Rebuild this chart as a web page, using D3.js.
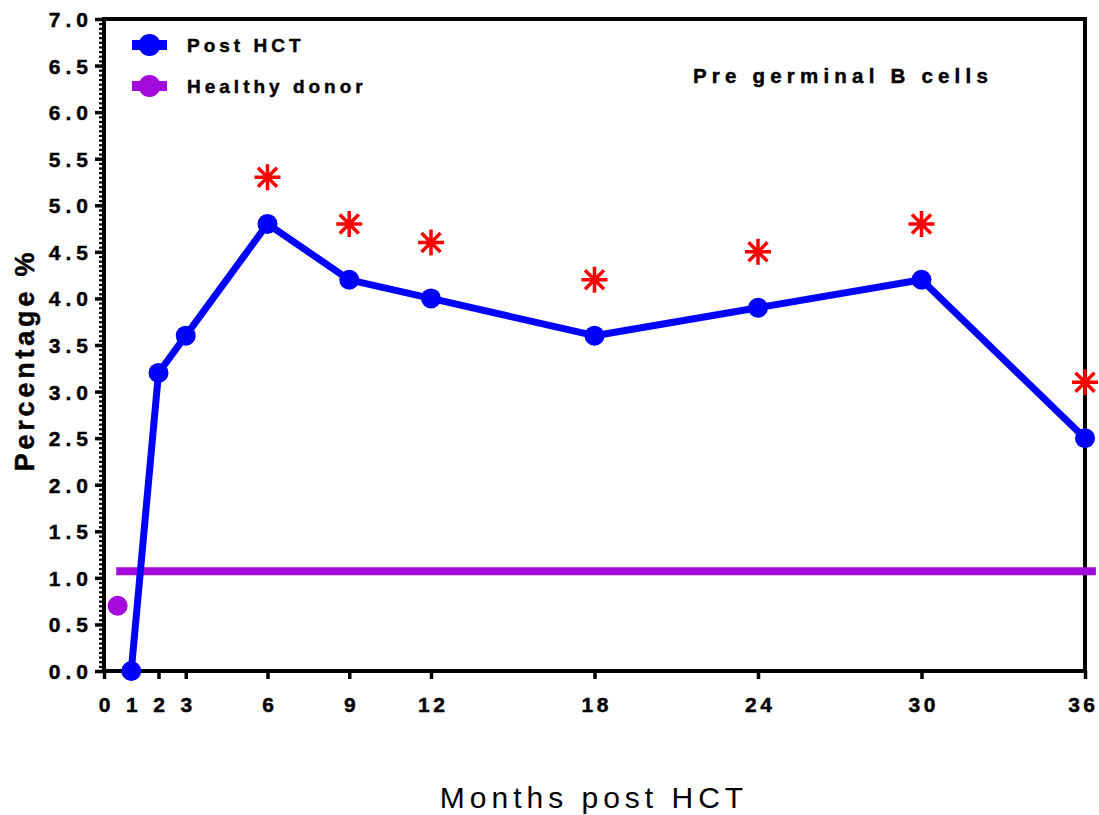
<!DOCTYPE html>
<html>
<head>
<meta charset="utf-8">
<script src="https://cdn.jsdelivr.net/npm/d3@7/dist/d3.min.js"></script>
<style>
  html, body { margin: 0; padding: 0; background: #fff; }
  svg { display: block; font-family: "Liberation Sans", Arial, sans-serif; }
  .heavy { stroke: #000; stroke-width: 0.45px; }
</style>
</head>
<body>
<svg id="chart" width="1099" height="815"></svg>
<script>
// Months after transplant and the percentage of pre germinal B cells
const months = [1, 2, 3, 6, 9, 12, 18, 24, 30, 36];
const postHCT = [0, 3.2, 3.6, 4.8, 4.2, 4.0, 3.6, 3.9, 4.2, 2.5];

// Significance markers placed above selected time points
const starMonths = [6, 9, 12, 18, 24, 30, 36];
const starValues = [5.3, 4.8, 4.6, 4.2, 4.5, 4.8, 3.1];

// Healthy donor reference: single point and mean level
const donorMonth = [0.5];
const donorValue = [0.7];
const donorLevel = [1.07];
const donorSpan = [0.45, 36.4];

const xTicks = [0, 1, 2, 3, 6, 9, 12, 18, 24, 30, 36];
const yTicks = [0, 0.5, 1, 1.5, 2, 2.5, 3, 3.5, 4, 4.5, 5, 5.5, 6, 6.5, 7];

const BLUE = "#0000ff", PURPLE = "#a30adb", RED = "#ff0000";

const W = 1099;
const svg = d3.select("#chart");
const plotL = 104, plotR = 1085, plotT = 19, plotB = 671;

const x = d3.scaleLinear().domain([0, 36]).range([plotL, plotR]);
const y = d3.scaleLinear().domain([0, 7]).range([plotB, plotT]);

// Frame: top and right edges
svg.append("path")
  .attr("d", `M${plotL},${plotT}H${plotR}V${plotB}`)
  .attr("fill", "none").attr("stroke", "#000").attr("stroke-width", 4);

// Minor y ticks every 0.05
const minor = d3.range(0, 141).map(i => i * 0.05);
const yMinor = d3.axisLeft(y).tickValues(minor).tickSize(5).tickFormat("");
const gMinor = svg.append("g").attr("transform", `translate(${plotL},0)`).call(yMinor);
gMinor.select(".domain").remove();
gMinor.selectAll("line").attr("stroke-width", 2.2);

// Major y axis
const yLs = 5;
const yAxis = d3.axisLeft(y).tickValues(yTicks).tickSize(9).tickPadding(2)
  .tickFormat(d3.format(".1f"));
const gy = svg.append("g").attr("transform", `translate(${plotL},0)`).call(yAxis);
gy.select(".domain").attr("stroke-width", 4).attr("d", `M0,${plotT - 2}V${plotB + 2}`);
gy.selectAll(".tick line").attr("stroke-width", 3.5);
gy.selectAll("text")
  .attr("class", "heavy")
  .attr("font-size", 21).attr("font-weight", "bold").attr("fill", "#000")
  .attr("letter-spacing", yLs).attr("dy", "0.36em");

// x axis
const xLs = 3.5;
const xAxis = d3.axisBottom(x).tickValues(xTicks).tickSize(8).tickPadding(18)
  .tickFormat(d3.format("d"));
const gx = svg.append("g").attr("transform", `translate(0,${plotB})`).call(xAxis);
gx.select(".domain").attr("stroke-width", 4).attr("d", `M${plotL - 2},0H${plotR + 2}`);
gx.selectAll(".tick line").attr("stroke-width", 3.5);
gx.selectAll("text")
  .attr("class", "heavy")
  .attr("font-size", 21).attr("font-weight", "bold").attr("fill", "#000")
  .attr("letter-spacing", xLs).attr("dx", xLs / 2);
// keep the last label inside the canvas
gx.selectAll(".tick").each(function (d) {
  const t = d3.select(this).select("text");
  const b = t.node().getBBox();
  const right = x(d) + b.x + b.width;
  if (right > W - 1) t.attr("dx", xLs / 2 - (right - (W - 1)));
});

// Axis titles
svg.append("text")
  .attr("class", "heavy")
  .attr("transform", `translate(34,360) rotate(-90)`)
  .attr("text-anchor", "middle")
  .attr("font-size", 27).attr("font-weight", "bold")
  .attr("letter-spacing", 3.8)
  .text("Percentage %");

svg.append("text")
  .attr("x", 594).attr("y", 808)
  .attr("text-anchor", "middle")
  .attr("font-size", 30)
  .attr("letter-spacing", 5)
  .text("Months post HCT");

// Healthy donor mean line
svg.append("line")
  .attr("x1", x(donorSpan[0])).attr("x2", x(donorSpan[1]))
  .attr("y1", y(donorLevel[0])).attr("y2", y(donorLevel[0]))
  .attr("stroke", PURPLE).attr("stroke-width", 8);

// Healthy donor point
svg.selectAll(".donor").data(donorMonth).join("circle")
  .attr("class", "donor")
  .attr("cx", d => x(d)).attr("cy", (d, i) => y(donorValue[i]))
  .attr("r", 10).attr("fill", PURPLE);

// Post HCT series
const pts = months.map((m, i) => [m, postHCT[i]]);
svg.append("path")
  .datum(pts)
  .attr("d", d3.line().x(d => x(d[0])).y(d => y(d[1])))
  .attr("fill", "none").attr("stroke", BLUE).attr("stroke-width", 7)
  .attr("stroke-linejoin", "round");
svg.selectAll(".pt").data(pts).join("circle")
  .attr("class", "pt")
  .attr("cx", d => x(d[0])).attr("cy", d => y(d[1]))
  .attr("r", 10).attr("fill", BLUE);

// Asterisks
const h = 13, dgl = 9.5;
const starPath = `M${-h},0H${h}M0,${-h}V${h}M${-dgl},${-dgl}L${dgl},${dgl}M${-dgl},${dgl}L${dgl},${-dgl}`;
svg.selectAll(".star").data(starMonths).join("path")
  .attr("class", "star")
  .attr("transform", (d, i) => `translate(${x(d)},${y(starValues[i])})`)
  .attr("d", starPath)
  .attr("stroke", RED).attr("stroke-width", 3.5).attr("fill", "none");

// Legend
const legend = [
  { label: "Post HCT", color: BLUE, yy: 45 },
  { label: "Healthy donor", color: PURPLE, yy: 86 }
];
const lg = svg.append("g");
legend.forEach(l => {
  lg.append("line").attr("x1", 132).attr("x2", 167).attr("y1", l.yy).attr("y2", l.yy)
    .attr("stroke", l.color).attr("stroke-width", 10);
  lg.append("circle").attr("cx", 149.5).attr("cy", l.yy).attr("r", 11).attr("fill", l.color);
  lg.append("text").attr("class", "heavy").attr("x", 187).attr("y", l.yy + 7)
    .attr("font-size", 19).attr("font-weight", "bold")
    .attr("letter-spacing", 4).text(l.label);
});

// Panel title
svg.append("text")
  .attr("class", "heavy")
  .attr("x", 693).attr("y", 83)
  .attr("font-size", 20.5).attr("font-weight", "bold")
  .attr("letter-spacing", 5.2)
  .text("Pre germinal B cells");
</script>
</body>
</html>
